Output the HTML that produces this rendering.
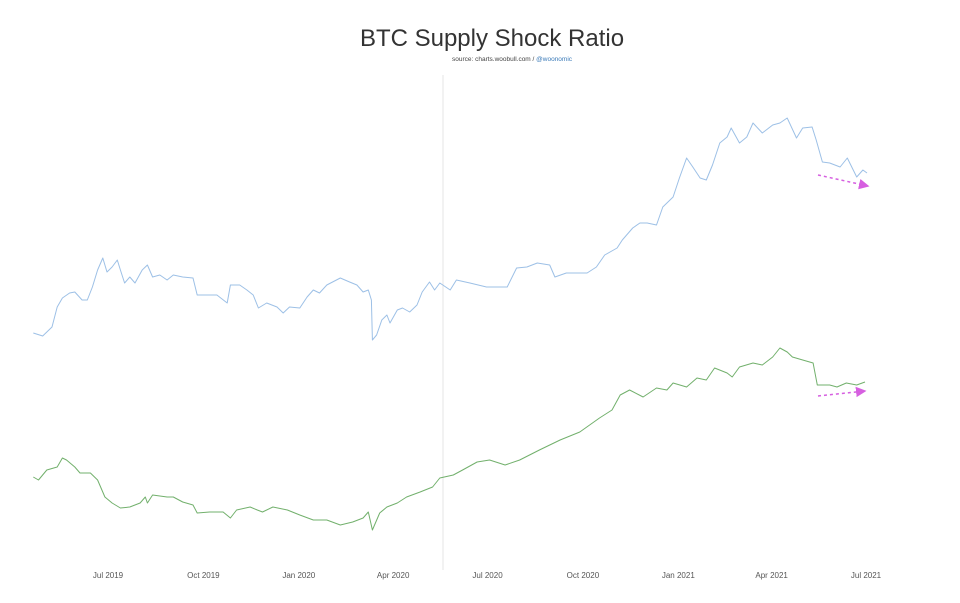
<!DOCTYPE html>
<html><head><meta charset="utf-8">
<style>
html,body{margin:0;padding:0;background:#fff;}
svg{display:block;font-family:"Liberation Sans",sans-serif;}
</style></head>
<body>
<svg id="chart" width="960" height="603" viewBox="0 0 960 603">
  <text x="492" y="46" text-anchor="middle" font-size="24" fill="#333">BTC Supply Shock Ratio</text>
  <text x="512" y="61" text-anchor="middle" font-size="6.5" fill="#444">source: charts.woobull.com / <tspan fill="#3a7ab8">@woonomic</tspan></text>
  <line x1="443" y1="75" x2="443" y2="570" stroke="#e4e4e4" stroke-width="1"/>
  <g id="xaxis"></g>
  <g id="series"></g>
  <defs>
    <marker id="arr" markerWidth="8" markerHeight="8" refX="6" refY="3.5" orient="auto"><path d="M0,0 L7,3.5 L0,7 Z" fill="#d65fe0"/></marker>
  </defs>
  <line x1="818" y1="175" x2="868" y2="186" stroke="#d65fe0" stroke-width="1.5" stroke-dasharray="3,3" marker-end="url(#arr)"/>
  <line x1="818" y1="396" x2="865" y2="391" stroke="#d65fe0" stroke-width="1.5" stroke-dasharray="3,3" marker-end="url(#arr)"/>
</svg>
<script>
// days since 2019-07-01
const blueDays = [-72,-63,-54,-49,-44,-37,-32,-25,-20,-15,-10,-5,-1,4,9,12,16,21,26,33,38,43,50,57,63,72,82,86,95,105,115,118,127,134,140,145,153,163,169,175,185,192,198,204,211,224,233,240,246,251,254,255,259,264,269,272,279,284,291,298,303,310,315,320,330,336,349,365,385,394,404,414,426,431,442,452,462,471,479,491,496,506,513,520,529,535,545,551,558,564,571,577,583,590,597,601,609,616,622,631,641,648,655,664,670,679,683,689,696,706,713,722,728,732];
const blueVals = [267,264,273,293,302,307,308,300,300,313,330,342,328,333,340,330,317,323,317,330,335,323,325,320,325,323,322,305,305,305,297,315,315,310,305,292,297,293,287,293,292,303,310,307,315,322,318,315,308,310,300,260,265,280,285,277,290,292,288,295,308,318,310,317,310,320,317,313,313,332,333,337,335,323,327,327,327,333,345,352,360,372,377,377,375,393,403,422,442,433,422,420,435,457,463,472,457,463,477,467,475,477,482,462,472,473,460,438,437,433,442,423,430,427];
const greenDays = [-72,-67,-59,-49,-44,-40,-32,-27,-17,-10,-3,4,12,21,31,36,38,43,57,63,72,82,86,98,111,118,124,137,144,149,159,173,185,198,211,224,236,246,251,255,262,269,279,288,301,313,320,333,342,356,368,383,397,416,436,455,474,486,494,503,516,529,539,545,558,568,577,585,597,602,609,622,631,641,648,655,660,670,680,684,696,703,712,722,730];
const greenVals = [123,120,130,133,142,140,133,127,127,120,103,97,92,93,97,103,97,105,103,103,98,95,87,88,88,82,90,93,90,88,93,90,85,80,80,75,78,82,88,70,87,93,97,103,108,113,122,125,130,138,140,135,140,150,160,168,182,190,205,210,203,212,210,217,213,222,220,232,227,223,233,237,235,243,252,248,243,240,237,215,215,213,217,215,218];
const tickLabels = ["Jul 2019","Oct 2019","Jan 2020","Apr 2020","Jul 2020","Oct 2020","Jan 2021","Apr 2021","Jul 2021"];
const tickDays = [0,92,184,275,366,458,550,640,731];

const NS="http://www.w3.org/2000/svg";
function xScale(d){return 108 + d*(866-108)/731;}
function yScale(v){return 600 - v;}

const ax=document.getElementById('xaxis');
tickLabels.forEach((t,i)=>{
  const el=document.createElementNS(NS,'text');
  el.setAttribute('x',xScale(tickDays[i]));
  el.setAttribute('y',578);
  el.setAttribute('text-anchor','middle');
  el.setAttribute('font-size','8');
  el.setAttribute('fill','#555');
  el.textContent=t;
  
  
  ax.appendChild(el);
});

const g=document.getElementById('series');
function drawLine(days,vals,color){
  const p=document.createElementNS(NS,'path');
  let d='';
  days.forEach((dy,i)=>{d+=(i?'L':'M')+xScale(dy).toFixed(1)+','+yScale(vals[i]).toFixed(1);});
  p.setAttribute('d',d);
  p.setAttribute('fill','none');
  p.setAttribute('stroke',color);
  p.setAttribute('stroke-width','1');
  p.setAttribute('stroke-linejoin','round');
  g.appendChild(p);
  return p;
}
const bl=drawLine(blueDays,blueVals,'#9dc0e6');


const gl=drawLine(greenDays,greenVals,'#72b06c');


</script>
</body></html>
